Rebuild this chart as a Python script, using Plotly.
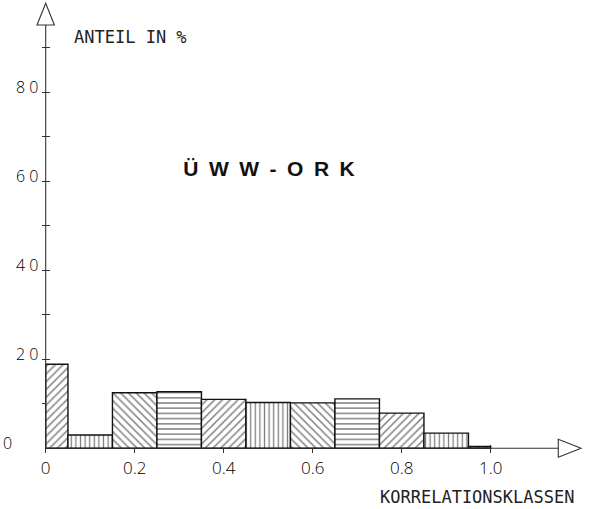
import plotly.graph_objects as go

# Korrelationsklassen (Klassenmitten) und Anteil je Klasse in %
klassen = [0.0, 0.1, 0.2, 0.3, 0.4, 0.5, 0.6, 0.7, 0.8, 0.9, 1.0]
anteil = [18.9, 3.0, 12.5, 12.7, 11.0, 10.3, 10.2, 11.1, 7.9, 3.4, 0.4]
muster = ["/", "|", "\\", "-", "/", "|", "\\", "-", "/", "|", "\\"]

x_tickwerte = [0, 0.2, 0.4, 0.6, 0.8, 1.0]
x_ticktexte = ["0", "0.2", "0.4", "0.6", "0.8", "1.0"]
y_tickwerte = [10, 20, 30, 40, 50, 60, 70, 80, 90]
y_ticktexte = ["", "2 0", "", "4 0", "", "6 0", "", "8 0", ""]

titel = "Ü\u2002W\u2002W\u2002-\u2002O\u2002R\u2002K"
y_titel = "ANTEIL IN %"
x_titel = "KORRELATIONSKLASSEN"

# Seitengeometrie: Ursprung und Massstab in Pixeln
W, H = 592, 509
X0_PX, PX_PRO_X = 45.7, 445.0
Y0_PX, PX_PRO_Y = 448.3, 4.45
INK = "#111111"

def dx(px):
    return px / PX_PRO_X

def dy(px):
    return px / PX_PRO_Y

# Klassenbreite 0.1, an den Raendern 0 und 1 halbiert
halb = 0.05
links = [max(k - halb, 0.0) for k in klassen]
rechts = [min(k + halb, 1.0) for k in klassen]
mitte = [(l + r) / 2 for l, r in zip(links, rechts)]
breite = [r - l for l, r in zip(links, rechts)]

muster_groesse = {"/": 5.5, "\\": 5.5, "|": 4.6, "-": 5.2}

fig = go.Figure()
fig.add_trace(go.Bar(
    x=mitte, y=anteil, width=breite,
    marker=dict(
        color="white",
        line=dict(color=INK, width=1.4),
        pattern=dict(
            shape=muster,
            size=[muster_groesse[m] for m in muster],
            solidity=0.28,
            fgcolor="#000000",
            bgcolor="white",
        ),
    ),
    hoverinfo="skip",
))

shapes = []
# Achsen als Linien mit offenen Pfeilspitzen
x_pfeil_basis, x_pfeil_spitze = dx(558.3 - X0_PX), dx(581 - X0_PX)
y_pfeil_basis, y_pfeil_spitze = dy(Y0_PX - 25), dy(Y0_PX - 3.3)
shapes.append(dict(type="line", x0=0, x1=x_pfeil_basis, y0=0, y1=0,
                   line=dict(color="#333", width=1.1), layer="above"))
shapes.append(dict(type="line", x0=0, x1=0, y0=0, y1=y_pfeil_basis,
                   line=dict(color="#333", width=1.1), layer="above"))
hx = dy(9)
shapes.append(dict(
    type="path",
    path=f"M {x_pfeil_basis},{-hx} L {x_pfeil_spitze},0 L {x_pfeil_basis},{hx} Z",
    line=dict(color="#333", width=1.1), fillcolor="white", layer="above"))
hy = dx(8.7)
shapes.append(dict(
    type="path",
    path=f"M {-hy},{y_pfeil_basis} L 0,{y_pfeil_spitze} L {hy},{y_pfeil_basis} Z",
    line=dict(color="#333", width=1.1), fillcolor="white", layer="above"))

tickfont = dict(family="Open Sans", size=16, color="#000", weight=300)

fig.update_layout(
    width=W, height=H,
    margin=dict(l=0, r=0, t=0, b=0),
    paper_bgcolor="white", plot_bgcolor="white",
    showlegend=False,
    shapes=shapes,
    title=dict(
        text=titel, x=269 / W, y=1 - 169 / H, xanchor="center", yanchor="middle",
        font=dict(family="Liberation Sans", size=21, color="#111", weight="bold"),
    ),
    xaxis=dict(
        range=[-X0_PX / PX_PRO_X, (W - X0_PX) / PX_PRO_X],
        anchor="free", position=(H - (Y0_PX - 4)) / H,
        showgrid=False, zeroline=False, showline=False,
        tickmode="array", tickvals=x_tickwerte, ticktext=x_ticktexte,
        ticks="outside", ticklen=8, tickwidth=1, tickcolor="#333",
        tickfont=dict(family="Open Sans", size=17, color="#000", weight=300),
        layer="below traces", automargin=False, fixedrange=True,
    ),
    yaxis=dict(
        range=[(Y0_PX - H) / PX_PRO_Y, Y0_PX / PX_PRO_Y],
        anchor="free", position=(X0_PX + 4) / W,
        showgrid=False, zeroline=False, showline=False,
        tickmode="array", tickvals=y_tickwerte, ticktext=y_ticktexte,
        ticks="outside", ticklen=8, tickwidth=1, tickcolor="#333",
        tickfont=tickfont, ticklabelshift=-5,
        layer="below traces", automargin=False, fixedrange=True,
    ),
    annotations=[
        dict(text="0", x=7 / W, y=1 - 443 / H, xref="paper", yref="paper",
             showarrow=False, xanchor="center", yanchor="middle", font=tickfont),
        dict(text=y_titel, x=72 / W, y=1 - 37 / H, xref="paper", yref="paper",
             showarrow=False, xanchor="left", yanchor="middle",
             font=dict(family="DejaVu Sans Mono", size=17, color="#222")),
        dict(text=x_titel, x=576 / W, y=1 - 497 / H, xref="paper", yref="paper",
             showarrow=False, xanchor="right", yanchor="middle",
             font=dict(family="DejaVu Sans Mono", size=17, color="#222")),
    ],
)

fig.write_html("out.html")
